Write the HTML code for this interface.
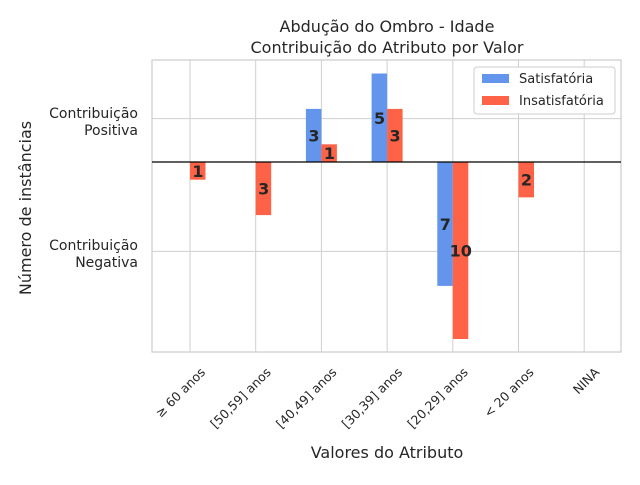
<!DOCTYPE html>
<html><head><meta charset="utf-8"><style>
body{margin:0;background:#fff;font-family:"Liberation Sans","DejaVu Sans",sans-serif;}
</style></head><body>
<svg id="chart" width="640" height="480" xmlns="http://www.w3.org/2000/svg" font-family="DejaVu Sans, Liberation Sans, sans-serif" fill="#262626">
<rect width="640" height="480" fill="#fff"/>
<text x="387" y="32" text-anchor="middle" font-size="16">Abdução do Ombro - Idade</text>
<text x="387" y="53" text-anchor="middle" font-size="16">Contribuição do Atributo por Valor</text>
<g id="grid"></g>
<g id="bars"></g>
<g id="labels"></g>
<rect x="152" y="60" width="469" height="292" fill="none" stroke="#ccc" stroke-width="1.2"/>
<line x1="152" x2="621" y1="162" y2="162" stroke="#000" stroke-width="1.2"/>
<text text-anchor="end" font-size="14"><tspan x="138" y="118">Contribuição</tspan><tspan x="138" y="135">Positiva</tspan></text>
<text text-anchor="end" font-size="14"><tspan x="138" y="250">Contribuição</tspan><tspan x="138" y="267">Negativa</tspan></text>
<text transform="translate(31,208) rotate(-90)" text-anchor="middle" font-size="16">Número de instâncias</text>
<text x="387" y="458" text-anchor="middle" font-size="16">Valores do Atributo</text>
<g id="xticks"></g>
<g>
<rect x="474" y="67" width="141" height="47" rx="3" fill="#fff" stroke="#ccc"/>
<rect x="482" y="74" width="27" height="9" fill="#6495ED"/>
<text x="519" y="83" font-size="13">Satisfatória</text>
<rect x="482" y="96" width="27" height="9" fill="#FF6347"/>
<text x="519" y="105" font-size="13">Insatisfatória</text>
</g>
</svg>
<script>
const categories=["≥ 60 anos","[50,59] anos","[40,49] anos","[30,39] anos","[20,29] anos","< 20 anos","NINA"];
const satisfatoria=[0,0,3,5,-7,0,0];
const insatisfatoria=[-1,-3,1,3,-10,-2,0];
const yTicks=[2.45,-5.05];
const NS="http://www.w3.org/2000/svg";
function x(i){return 190+i*65.7;}
function y(v){return 162-v*17.7;}
const grid=document.getElementById('grid'),bars=document.getElementById('bars'),labels=document.getElementById('labels'),xt=document.getElementById('xticks');
function mk(tag,attrs,parent){const e=document.createElementNS(NS,tag);for(const k in attrs)e.setAttribute(k,attrs[k]);parent.appendChild(e);return e;}
categories.forEach((c,i)=>{
  const g=mk('line',{x1:x(i),x2:x(i),y1:60,y2:352,stroke:'#cfcfcf','stroke-width':1},grid);
  
  
  const t=mk('text',{transform:`translate(${x(i)+16},${373}) rotate(-45)`,'text-anchor':'end','font-size':12.5},xt);
  t.textContent=c;
  
  
});
yTicks.forEach(v=>{
  const g=mk('line',{x1:152,x2:621,y1:y(v),y2:y(v),stroke:'#cfcfcf','stroke-width':1},grid);
  
  
});
function series(vals,off,color,name){
  vals.forEach((v,i)=>{
    if(v===0)return;
    const top=Math.min(y(v),y(0)),h=Math.abs(y(v)-y(0));
    const r=mk('rect',{x:x(i)+off,y:top,width:15.5,height:h,fill:color},bars);
    
    
    const t=mk('text',{x:x(i)+off+8,y:top+h/2+6,'text-anchor':'middle','font-size':16,'font-weight':'bold'},labels);
    t.textContent=Math.abs(v);
    
    
  });
}
series(satisfatoria,-15.5,'#6495ED','satisfatoria');
series(insatisfatoria,0,'#FF6347','insatisfatoria');
</script>
</body></html>
